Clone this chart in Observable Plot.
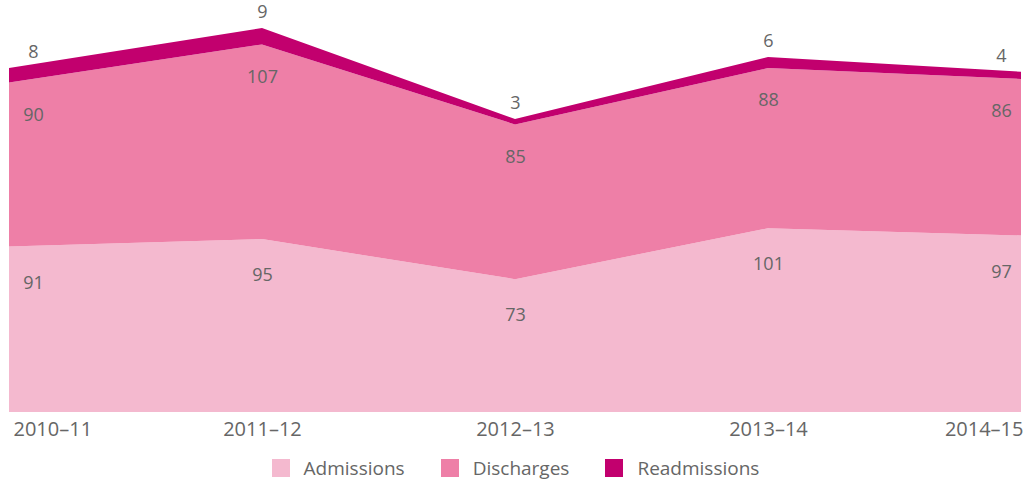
<!DOCTYPE html>
<html>
<head>
<meta charset="utf-8">
<script src="https://cdn.jsdelivr.net/npm/d3@7"></script>
<script src="https://cdn.jsdelivr.net/npm/@observablehq/plot@0.6"></script>
<style>
  html, body { margin: 0; padding: 0; background: #fff; }
  body { width: 1031px; font-family: "Open Sans", sans-serif; }
  #legend { display: flex; justify-content: center; align-items: center; height: 40px; margin-top: 2px; font-size: 19px; color: #666; }
  .item { display: flex; align-items: center; margin: 0 18px; }
  .sw { width: 18px; height: 18px; margin-right: 14px; }
</style>
</head>
<body>
<div id="chart"></div>
<div id="legend"></div>
<script>
const years = ["2010–11", "2011–12", "2012–13", "2013–14", "2014–15"];
const series = ["Admissions", "Discharges", "Readmissions"];
const admissions = [91, 95, 73, 101, 97];
const discharges = [90, 107, 85, 88, 86];
const readmissions = [8, 9, 3, 6, 4];
const colors = ["#f4b9cf", "#ee7fa7", "#c2006e"];

const values = [admissions, discharges, readmissions];
const data = [];
series.forEach((s, si) => years.forEach((yr, i) => data.push({year: yr, series: s, value: values[si][i], idx: i})));

// label rows with stacked tops
const labels = [];
years.forEach((yr, i) => {
  let cum = 0;
  series.forEach((s, si) => {
    cum += values[si][i];
    labels.push({year: yr, series: s, value: values[si][i], top: cum, idx: i});
  });
});

const dyFor = {Admissions: 36, Discharges: 32, Readmissions: -16};
const last = years.length - 1;
const textMarks = [];
for (const s of series) {
  const groups = [
    {f: d => d.idx === 0, dx: 24},
    {f: d => d.idx > 0 && d.idx < last, dx: 0},
    {f: d => d.idx === last, dx: -20}
  ];
  for (const g of groups) {
    textMarks.push(Plot.text(labels.filter(d => d.series === s && g.f(d)), {
      x: "year", y: "top", text: d => String(d.value),
      dx: g.dx, dy: dyFor[s], fill: "#666", fontSize: 18
    }));
  }
}

const tickRows = years.map((yr, i) => ({year: yr, idx: i}));
const tickMarks = [
  Plot.text(tickRows.filter(d => d.idx === 0), {x: "year", y: 0, text: "year", textAnchor: "start", dx: 4, dy: 17, fill: "#666", fontSize: 20}),
  Plot.text(tickRows.filter(d => d.idx > 0 && d.idx < last), {x: "year", y: 0, text: "year", dy: 17, fill: "#666", fontSize: 20}),
  Plot.text(tickRows.filter(d => d.idx === last), {x: "year", y: 0, text: "year", textAnchor: "end", dx: 2, dy: 17, fill: "#666", fontSize: 20})
];

const chart = Plot.plot({
  width: 1031,
  height: 446,
  marginLeft: 8,
  marginRight: 9,
  marginTop: 28,
  marginBottom: 34,
  style: {fontFamily: "'Open Sans', sans-serif", background: "#fff"},
  x: {type: "point", domain: years, padding: 0, axis: null},
  y: {domain: [0, 211], axis: null},
  color: {domain: series, range: colors},
  marks: [
    Plot.areaY(data, Plot.stackY({x: "year", y: "value", z: "series", fill: "series", order: series, curve: "linear"})),
    ...textMarks,
    ...tickMarks
  ]
});
document.getElementById("chart").appendChild(chart);

const legend = document.getElementById("legend");
series.forEach((s, i) => {
  const it = document.createElement("div");
  it.className = "item";
  const sw = document.createElement("div");
  sw.className = "sw";
  sw.style.background = colors[i];
  const lb = document.createElement("span");
  lb.textContent = s;
  it.appendChild(sw);
  it.appendChild(lb);
  legend.appendChild(it);
});
</script>
</body>
</html>
